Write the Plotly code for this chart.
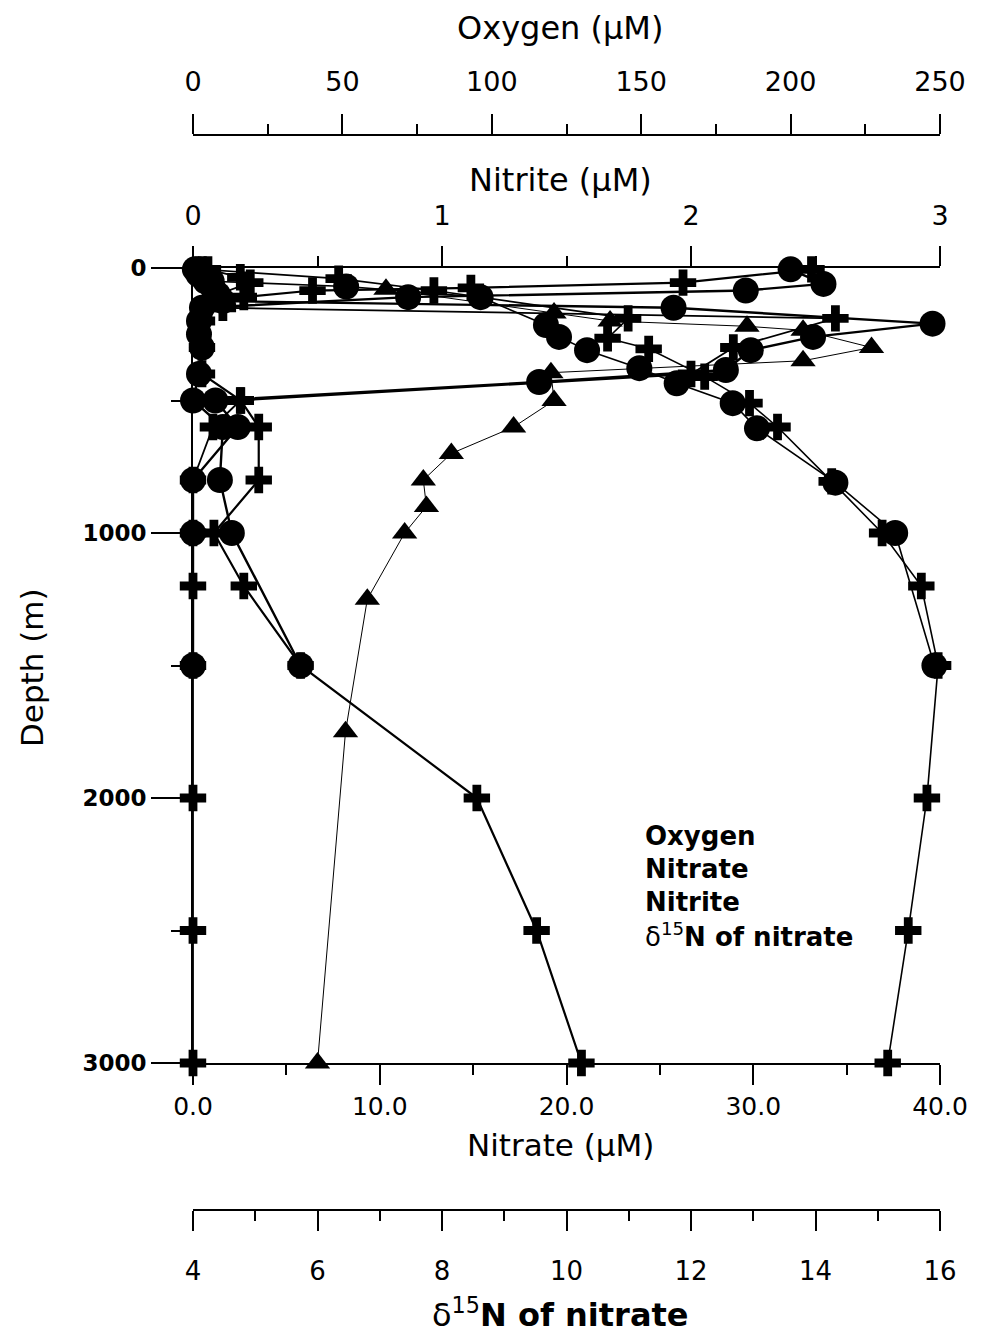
import plotly.graph_objects as go

# ---------------- data ----------------
# Station A (filled circles)
depth_o2_a = [5, 60, 85, 110, 150, 200, 250, 300, 400, 500, 600, 800, 1000, 1500]
oxygen_a = [200, 211, 185, 72, 3, 2, 2, 3, 2, 0, 10, 9, 13, 36]

depth_no3_a = [5, 25, 50, 70, 110, 215, 260, 310, 378, 435, 510, 605, 810, 1000, 1500]
nitrate_a = [0.1, 0.3, 1.0, 8.2, 15.4, 18.9, 19.6, 21.1, 23.9, 25.9, 28.9, 30.2, 34.4, 37.6, 39.7]

depth_no2_a = [5, 25, 50, 75, 100, 125, 150, 210, 260, 310, 385, 430, 500, 600, 800, 1000, 1500]
nitrite_a = [0.02, 0.03, 0.05, 0.08, 0.10, 0.12, 1.93, 2.97, 2.49, 2.24, 2.14, 1.39, 0.09, 0.18, 0.0, 0.0, 0.0]

# Station B (crosses)
depth_o2_b = [5, 55, 75, 85, 110, 150, 200, 300, 400, 500, 600, 800, 1000, 1200, 1500, 2000, 2500, 3000]
oxygen_b = [207, 164, 93, 40, 17, 5, 3, 3, 3, 16, 22, 22, 7, 17, 36, 95, 115, 130]

depth_no3_b = [5, 40, 85, 190, 265, 305, 410, 510, 600, 805, 1000, 1200, 1500, 2000, 2500, 3000]
nitrate_b = [0.5, 7.8, 12.9, 23.3, 22.2, 24.4, 27.4, 29.8, 31.3, 34.2, 36.9, 39.0, 39.9, 39.3, 38.3, 37.2]

depth_no2_b = [5, 35, 55, 100, 150, 190, 300, 400, 500, 600, 800, 1000, 1200, 1500, 2000, 2500, 3000]
nitrite_b = [0.06, 0.19, 0.23, 0.10, 0.12, 2.58, 2.17, 2.00, 0.19, 0.08, 0.0, 0.0, 0.0, 0.0, 0.0, 0.0, 0.0]

# delta 15N of nitrate (triangles)
depth_d15n = [80, 170, 200, 220, 235, 300, 350, 395, 500, 600, 700, 800, 900, 1000, 1250, 1750, 3000]
d15n = [7.1, 9.8, 10.7, 12.9, 13.8, 14.9, 13.8, 9.75, 9.8, 9.15, 8.15, 7.7, 7.75, 7.4, 6.8, 6.45, 6.0]

legend_labels = ["<b>Oxygen</b>", "<b>Nitrate</b>", "<b>Nitrite</b>", "δ<sup>15</sup><b>N of nitrate</b>"]

# ---------------- layout helpers ----------------
W, H = 982, 1336
X0, X1 = 193, 940          # plot area, pixels
Y0, Y1 = 268, 1063


def fx(p):
    return p / W


def fy(p):
    return 1 - p / H


x_dom = [fx(X0), fx(X1)]
y_dom = [fy(Y1), fy(Y0)]

FONT = "DejaVu Sans"
BLACK = "black"

fig = go.Figure()


def add(xs, ys, xaxis, symbol, size, lw):
    fig.add_trace(go.Scatter(
        x=xs, y=ys, xaxis=xaxis, yaxis="y", mode="lines+markers",
        line=dict(color=BLACK, width=lw),
        marker=dict(symbol=symbol, size=size, color=BLACK, line=dict(width=0)),
        cliponaxis=False, showlegend=False, hoverinfo="skip"))


add(nitrate_a, depth_no3_a, "x", "circle", 26, 1.6)
add(nitrate_b, depth_no3_b, "x", "cross", 22, 1.6)
add(nitrite_a, depth_no2_a, "x2", "circle", 26, 2.4)
add(nitrite_b, depth_no2_b, "x2", "cross", 22, 1.8)
add(oxygen_a, depth_o2_a, "x3", "circle", 26, 2.4)
add(oxygen_b, depth_o2_b, "x3", "cross", 22, 2.2)
add(d15n, depth_d15n, "x4", "triangle-up", 22, 1)


def minor(dt, tick0=0):
    return dict(ticks="outside", ticklen=10, tickwidth=2, tickcolor=BLACK, dtick=dt, tick0=tick0, showgrid=False)


base = dict(showline=True, linecolor=BLACK, linewidth=2, ticks="outside", tickcolor=BLACK,
            tickwidth=2, ticklen=20, showgrid=False, zeroline=False, domain=x_dom, fixedrange=True,
            automargin=False)

fig.update_layout(
    width=W, height=H,
    margin=dict(l=0, r=0, t=0, b=0, pad=0, autoexpand=False),
    paper_bgcolor="white", plot_bgcolor="white", showlegend=False,
    xaxis=dict(**base, range=[0, 40], dtick=10, tick0=0, tickformat=".1f", side="bottom", anchor="y",
               minor=minor(5), ticklabelstandoff=0,
               tickfont=dict(family=FONT, size=25, color=BLACK)),
    xaxis2=dict(**base, range=[0, 3], dtick=1, tick0=0, side="top", anchor="y", overlaying="x",
                minor=minor(0.5), ticklabelstandoff=10,
                tickfont=dict(family=FONT, size=27, color=BLACK)),
    xaxis3=dict(**base, range=[0, 250], dtick=50, tick0=0, side="top", anchor="free", overlaying="x",
                position=fy(135), minor=minor(25), ticklabelstandoff=12,
                tickfont=dict(family=FONT, size=27, color=BLACK)),
    xaxis4=dict(**base, range=[4, 16], dtick=2, tick0=4, side="bottom", anchor="free", overlaying="x",
                position=fy(1210), minor=minor(1, 4), ticklabelstandoff=18,
                tickfont=dict(family=FONT, size=26, color=BLACK)),
    yaxis=dict(showline=True, linecolor=BLACK, linewidth=2, ticks="outside", tickcolor=BLACK,
               tickwidth=2, ticklen=40, showgrid=False, zeroline=False, domain=y_dom,
               range=[3000, 0], dtick=1000, tick0=0, anchor="x", side="left", automargin=False,
               minor=dict(ticks="outside", ticklen=20, tickwidth=2, tickcolor=BLACK, dtick=500,
                          tick0=0, showgrid=False),
               ticklabelstandoff=0, fixedrange=True,
               tickfont=dict(family=FONT, size=23, color=BLACK, weight="bold")),
)

ann = []


def text(x, y, s, size, bold=False, xanchor="center", angle=0):
    ann.append(dict(x=fx(x), y=fy(y), xref="paper", yref="paper", text=s, showarrow=False,
                    xanchor=xanchor, yanchor="middle", textangle=angle,
                    font=dict(family=FONT, size=size, color=BLACK,
                              weight="bold" if bold else "normal")))


text(560, 28, "Oxygen (μM)", 32)
text(560, 180, "Nitrite (μM)", 32)
text(560, 1145, "Nitrate (μM)", 31)
text(560, 1313, "δ<sup>15</sup><b>N of nitrate</b>", 32)
text(32, 668, "Depth (m)", 31, angle=-90)

for i, lab in enumerate(legend_labels):
    text(643, 836 + i * 33, lab, 26, xanchor="left")

fig.update_layout(annotations=ann)
fig.write_html("out.html")
